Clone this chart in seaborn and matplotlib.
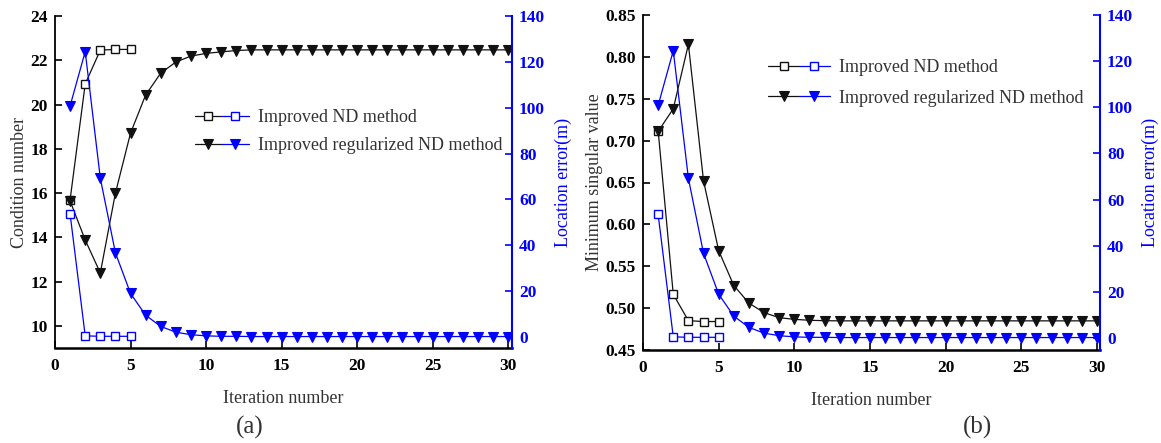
import numpy as np
import pandas as pd
import matplotlib
matplotlib.use("Agg")
import matplotlib.pyplot as plt
import seaborn as sns
from matplotlib.lines import Line2D
from matplotlib.legend_handler import HandlerTuple

sns.set_style("ticks")
plt.rcParams['font.family'] = ['Liberation Serif', 'DejaVu Serif']

# ---------------- data ----------------
iter_nd = [1, 2, 3, 4, 5]
iter_reg = list(range(1, 31))

# (a) condition number
cond_nd = [15.7, 20.93, 22.46, 22.49, 22.49]
cond_reg = [15.64, 13.88, 12.39, 16.0, 18.71, 20.43, 21.42, 21.92, 22.19, 22.31,
            22.38, 22.44] + [22.47] * 18

# (b) minimum singular value
msv_nd = [0.712, 0.5165, 0.485, 0.484, 0.484]
msv_reg = [0.711, 0.738, 0.815, 0.652, 0.5686, 0.527, 0.506, 0.4946, 0.4886, 0.4866,
           0.4855, 0.485] + [0.4848] * 18

# location error (m)
err_nd = [53.6, 0.5, 0.3, 0.3, 0.3]
err_reg = [100.8, 124.5, 69.2, 36.7, 19.0, 9.5, 4.6, 2.1, 1.0, 0.5,
           0.3, 0.3] + [0.2] * 18

xticks = [0, 5, 10, 15, 20, 25, 30]
cond_ticks = [10, 12, 14, 16, 18, 20, 22, 24]
msv_ticks = [0.45, 0.50, 0.55, 0.60, 0.65, 0.70, 0.75, 0.80, 0.85]
err_ticks = [0, 20, 40, 60, 80, 100, 120, 140]

label_nd = "Improved ND method"
label_reg = "Improved regularized ND method"

BLUE = "#0000FF"
BLACK = "#111111"
LABEL_GRAY = "#333333"

fig = plt.figure(figsize=(11.61, 4.43), dpi=100)

ax_a = fig.add_axes([55/1161, 1-348/443, 457/1161, 332/443])
ax_b = fig.add_axes([643/1161, 1-350/443, 457/1161, 335/443])

df_nd = pd.DataFrame({"it": iter_nd, "cond": cond_nd, "msv": msv_nd, "err": err_nd})
df_reg = pd.DataFrame({"it": iter_reg, "cond": cond_reg, "msv": msv_reg, "err": err_reg})

sq_kw = dict(marker="s", markersize=5.5, markerfacecolor="white", markeredgewidth=1.0,
             linewidth=0.9)
tri_kw = dict(marker="v", markersize=7.5, markeredgewidth=0.8, linewidth=0.9)


def draw(ax, ycol, ylim, yticks, yfmt, xlim, err_lim, ylabel, lpad_left, lpad_right):
    sns.lineplot(data=df_nd, x="it", y=ycol, ax=ax, color=BLACK,
                 markeredgecolor=BLACK, **sq_kw)
    sns.lineplot(data=df_reg, x="it", y=ycol, ax=ax, color=BLACK,
                 markeredgecolor=BLACK, markerfacecolor=BLACK, **tri_kw)
    ax2 = ax.twinx()
    sns.lineplot(data=df_nd, x="it", y="err", ax=ax2, color=BLUE,
                 markeredgecolor=BLUE, **sq_kw)
    sns.lineplot(data=df_reg, x="it", y="err", ax=ax2, color=BLUE,
                 markeredgecolor=BLUE, markerfacecolor=BLUE, **tri_kw)

    ax.set_xlim(*xlim)
    ax.set_ylim(*ylim)
    ax2.set_ylim(*err_lim)
    ax.set_xticks(xticks)
    ax.set_yticks(yticks)
    ax.set_yticklabels([yfmt.format(v) for v in yticks])
    ax2.set_yticks(err_ticks)

    for a in (ax, ax2):
        a.spines["top"].set_visible(False)
    ax.spines["right"].set_visible(False)
    ax2.spines["left"].set_visible(False)
    ax2.spines["bottom"].set_visible(False)
    ax.spines["left"].set_linewidth(1.3)
    ax.spines["left"].set_color("black")
    ax.spines["bottom"].set_linewidth(1.8)
    ax.spines["bottom"].set_color("black")
    ax2.spines["right"].set_linewidth(1.5)
    ax2.spines["right"].set_color(BLUE)

    ax.tick_params(axis="both", direction="in", length=5, width=1.2, colors="black",
                   labelsize=12.5)
    ax.tick_params(axis="x", pad=7)
    ax.tick_params(axis="y", pad=5)
    ax2.tick_params(axis="y", direction="in", length=5, width=1.2, colors=BLUE,
                    labelsize=12.5, pad=5)
    for lab in ax.get_xticklabels() + ax.get_yticklabels() + ax2.get_yticklabels():
        lab.set_fontweight("bold")

    ax.set_xlabel("Iteration number", fontsize=13, color=LABEL_GRAY, labelpad=12)
    ax.set_ylabel(ylabel, fontsize=13, color=LABEL_GRAY, labelpad=lpad_left)
    ax2.set_ylabel("Location error(m)", fontsize=13, color=BLUE, labelpad=lpad_right)
    return ax2


ax2a = draw(ax_a, "cond", (9.0, 24.0), cond_ticks, "{:g}", (0, 30.25), (-4.8, 140),
            "Condition number", 2, 7)
ax2b = draw(ax_b, "msv", (0.45, 0.85), msv_ticks, "{:.2f}", (0, 30.2), (-5.2, 140),
            "Minimum singular value", 2, 6)


def make_handles():
    h1 = (Line2D([], [], color=BLACK, markeredgecolor=BLACK, **sq_kw),
          Line2D([], [], color=BLUE, markeredgecolor=BLUE, **sq_kw))
    h2 = (Line2D([], [], color=BLACK, markeredgecolor=BLACK, markerfacecolor=BLACK, **tri_kw),
          Line2D([], [], color=BLUE, markeredgecolor=BLUE, markerfacecolor=BLUE, **tri_kw))
    return [h1, h2]


for a2, anchor, lsp, hl in ((ax2a, (0.306, 0.651), 0.6, 3.0),
                            (ax2b, (0.274, 0.797), 0.75, 3.4)):
    leg = a2.legend(make_handles(), [label_nd, label_reg],
                    handler_map={tuple: HandlerTuple(ndivide=None, pad=0)},
                    loc="center left", bbox_to_anchor=anchor, frameon=False,
                    fontsize=13, borderpad=0, borderaxespad=0, handlelength=hl,
                    handletextpad=0.5, labelspacing=lsp, numpoints=1)
    for t in leg.get_texts():
        t.set_color(LABEL_GRAY)

fig.text(250/1161, 1-427/443, "(a)", fontsize=18, ha="center", va="center", color=LABEL_GRAY)
fig.text(978/1161, 1-427/443, "(b)", fontsize=18, ha="center", va="center", color=LABEL_GRAY)

fig.savefig("out.png", dpi=100)
